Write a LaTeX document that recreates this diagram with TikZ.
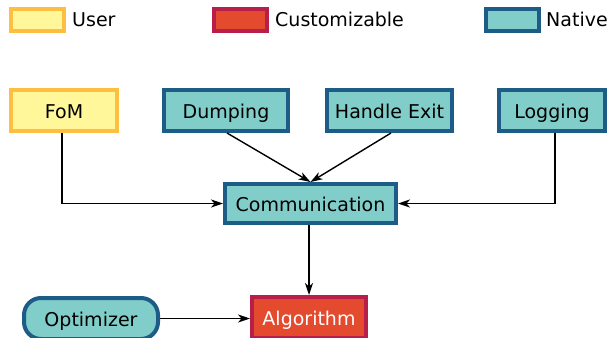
\documentclass[tikz,border=0pt]{standalone}
\usepackage{fontspec}
\setmainfont{DejaVu Sans}
\usetikzlibrary{arrows.meta}
\definecolor{userfill}{RGB}{255,247,153}
\definecolor{userdraw}{RGB}{254,190,64}
\definecolor{custfill}{RGB}{227,74,46}
\definecolor{custdraw}{RGB}{183,30,72}
\definecolor{natfill}{RGB}{128,205,201}
\definecolor{natdraw}{RGB}{30,92,136}
\tikzset{
  box/.style={draw, line width=4pt, inner sep=0pt, minimum height=41pt,
    font=\fontsize{19}{22}\selectfont, text height=15.5pt, text depth=0.5pt},
  userbox/.style={box, fill=userfill, draw=userdraw},
  custbox/.style={box, fill=custfill, draw=custdraw, text=white},
  natbox/.style={box, fill=natfill, draw=natdraw},
  legbox/.style={draw, line width=4pt, minimum width=53pt, minimum height=22pt, inner sep=0pt},
  legtext/.style={anchor=base west, inner sep=0pt, font=\fontsize{19}{22}\selectfont},
  conn/.style={line width=1.4pt, -{Stealth[length=12pt,width=8pt,inset=3.5pt]}}
}
\begin{document}
\begin{tikzpicture}[x=1pt,y=-1pt]
\useasboundingbox (0,0) rectangle (609,337);
% legend
\node[legbox, fill=userfill, draw=userdraw] (lu) at (37.5,20) {};
\node[legtext] (lut) at (72,27) {User};
\node[legbox, fill=custfill, draw=custdraw] (lc) at (240.5,20) {};
\node[legtext] (lct) at (275,27) {Customizable};
\node[legbox, fill=natfill, draw=natdraw] (ln) at (512.5,20) {};
\node[legtext] (lnt) at (546,27) {Native};
% nodes
\node[userbox, minimum width=106pt] (fom) at (64,110.5) {FoM};
\node[natbox, minimum width=124pt] (dump) at (226,110.5) {Dumping};
\node[natbox, minimum width=125pt] (hexit) at (389.5,110.5) {Handle Exit};
\node[natbox, minimum width=106pt] (log) at (552,110.5) {Logging};
\node[natbox, minimum width=171pt, minimum height=39pt] (comm) at (310.5,203.5) {Communication};
\node[custbox, minimum width=114pt] (alg) at (309,317.5) {Algorithm};
\node[natbox, minimum width=134pt, rounded corners=17pt] (opt) at (91,318.5) {Optimizer};
% connectors
\draw[conn] ([xshift=-2pt]fom.south) |- (comm.west);
\draw[conn] ([xshift=1pt]dump.south) -- (comm.north);
\draw[conn] ([xshift=1.5pt]hexit.south) -- (comm.north);
\draw[conn] ([xshift=3pt]log.south) |- (comm.east);
\draw[conn] (comm.south -| alg.north) -- (alg.north);
\draw[conn] (opt.east) -- (opt.east -| alg.west);
\end{tikzpicture}
\end{document}
